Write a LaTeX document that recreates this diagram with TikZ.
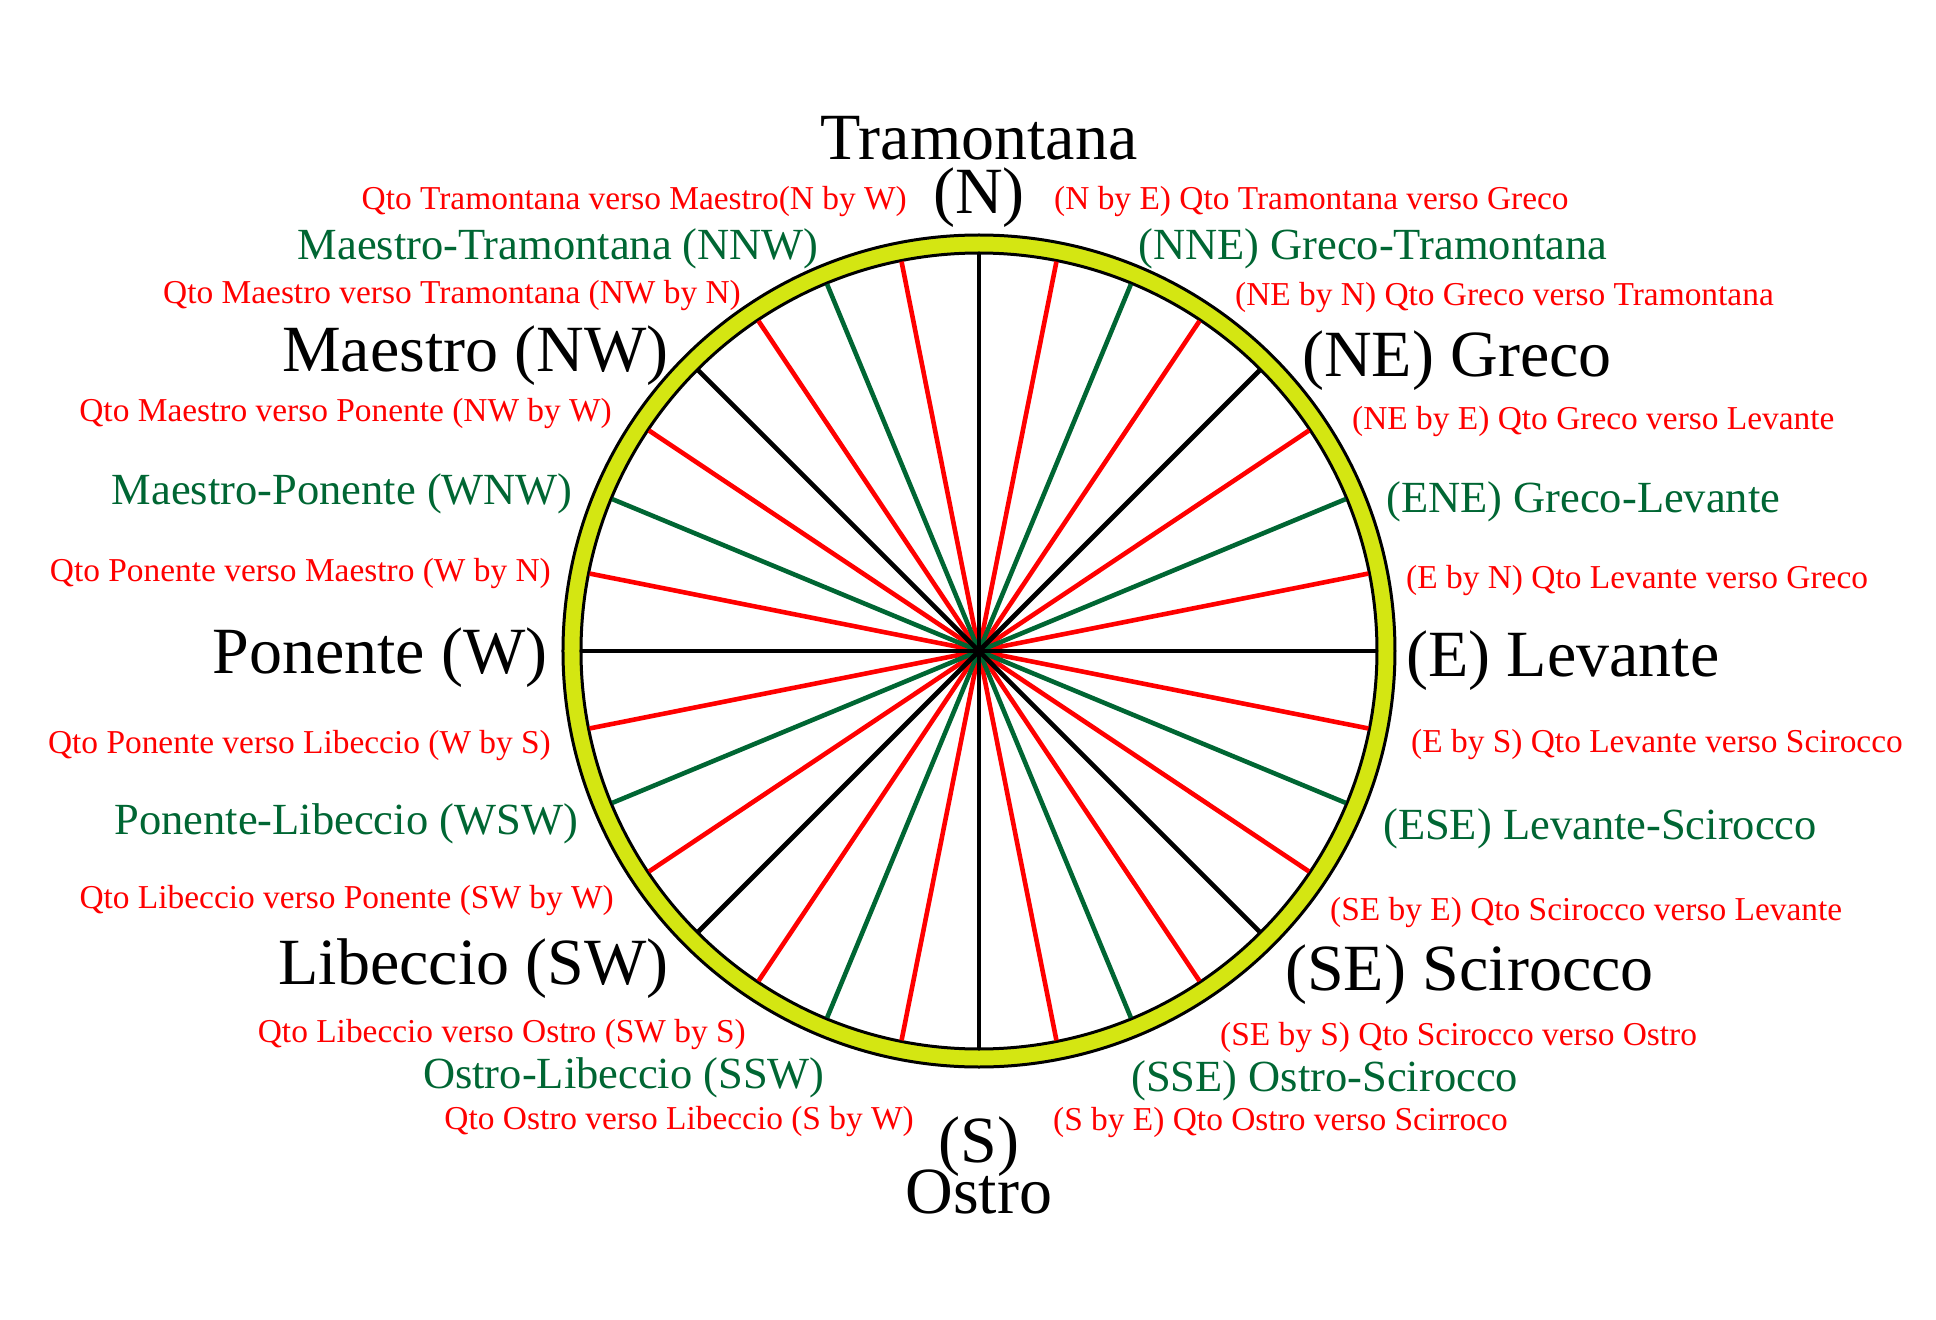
\documentclass[tikz,border=0pt]{standalone}
\usepackage{fontspec}
\setmainfont{Liberation Serif}
\usepackage{xcolor}
\usetikzlibrary{calc, positioning}

\definecolor{vongxanh}{RGB}{212,230,18}
\definecolor{xanhla}{RGB}{0,102,51}

\tikzset{
    gio chinh/.style={inner sep=0pt, font=\fontsize{66}{70}\selectfont},
    gio nua/.style={inner sep=0pt, text=xanhla, font=\fontsize{44.5}{48}\selectfont},
    gio phu/.style={inner sep=0pt, text=red, font=\fontsize{33.4}{36}\selectfont},
}

\begin{document}
\begin{tikzpicture}[x=1pt, y=1pt]
    \useasboundingbox (-979,-669) rectangle (957,651);

    % Vòng tròn ngoài
    \fill[vongxanh, even odd rule] (0,0) circle (416) (0,0) circle (398);
    \draw[line width=3pt] (0,0) circle (416);
    \draw[line width=3pt] (0,0) circle (398);

    % Các tia: đỏ, xanh, đen
    \foreach \g in {11.25, 33.75, ..., 348.75}
        \draw[red, line width=4.6pt] (0,0) -- (\g:397);
    \foreach \g in {22.5, 67.5, ..., 337.5}
        \draw[xanhla, line width=4.6pt] (0,0) -- (\g:397);
    \foreach \g in {0, 45, ..., 315}
        \draw[line width=4.6pt] (0,0) -- (\g:397);

    % Bắc - Nam
    \node[gio chinh] (tram) at (0,513) {Tramontana};
    \node[gio chinh] (n) at (0,453) {(N)};
    \node[gio chinh] (s) at (0,-496) {(S)};
    \node[gio chinh] (ostro) at (0,-541) {Ostro};

    % Bên trái
    \node[gio phu, anchor=east] (nbw) at (-72,449) {Qto Tramontana verso Maestro(N by W)};
    \node[gio nua, anchor=east] (nnw) at (-160,402) {Maestro-Tramontana (NNW)};
    \node[gio phu, anchor=east] (nwbn) at (-238,355) {Qto Maestro verso Tramontana (NW by N)};
    \node[gio chinh, anchor=east] (nw) at (-310,295) {Maestro (NW)};
    \node[gio phu, anchor=east] (nwbw) at (-367,237) {Qto Maestro verso Ponente (NW by W)};
    \node[gio nua, anchor=east] (wnw) at (-406,157) {Maestro-Ponente (WNW)};
    \node[gio phu, anchor=east] (wbn) at (-428,77) {Qto Ponente verso Maestro (W by N)};
    \node[gio chinh, anchor=east] (w) at (-431,-7) {Ponente (W)};
    \node[gio phu, anchor=east] (wbs) at (-428,-95) {Qto Ponente verso Libeccio (W by S)};
    \node[gio nua, anchor=east] (wsw) at (-401,-173) {Ponente-Libeccio (WSW)};
    \node[gio phu, anchor=east] (swbw) at (-365,-250) {Qto Libeccio verso Ponente (SW by W)};
    \node[gio chinh, anchor=east] (sw) at (-310,-318) {Libeccio (SW)};
    \node[gio phu, anchor=east] (swbs) at (-233,-384) {Qto Libeccio verso Ostro (SW by S)};
    \node[gio nua, anchor=east] (ssw) at (-154,-427) {Ostro-Libeccio (SSW)};
    \node[gio phu, anchor=east] (sbw) at (-65,-471) {Qto Ostro verso Libeccio (S by W)};

    % Bên phải
    \node[gio phu, anchor=west] (nbe) at (75,449) {(N by E) Qto Tramontana verso Greco};
    \node[gio nua, anchor=west] (nne) at (159,402) {(NNE) Greco-Tramontana};
    \node[gio phu, anchor=west] (nebn) at (256,353) {(NE by N) Qto Greco verso Tramontana};
    \node[gio chinh, anchor=west] (ne) at (323,290) {(NE) Greco};
    \node[gio phu, anchor=west] (nebe) at (373,229) {(NE by E) Qto Greco verso Levante};
    \node[gio nua, anchor=west] (ene) at (407,149) {(ENE) Greco-Levante};
    \node[gio phu, anchor=west] (ebn) at (427,70) {(E by N) Qto Levante verso Greco};
    \node[gio chinh, anchor=west] (e) at (427,-10) {(E) Levante};
    \node[gio phu, anchor=west] (ebs) at (432,-94) {(E by S) Qto Levante verso Scirocco};
    \node[gio nua, anchor=west] (ese) at (404,-178) {(ESE) Levante-Scirocco};
    \node[gio phu, anchor=west] (sebe) at (351,-262) {(SE by E) Qto Scirocco verso Levante};
    \node[gio chinh, anchor=west] (se) at (306,-324) {(SE) Scirocco};
    \node[gio phu, anchor=west] (sebs) at (241,-387) {(SE by S) Qto Scirocco verso Ostro};
    \node[gio nua, anchor=west] (sse) at (152,-430) {(SSE) Ostro-Scirocco};
    \node[gio phu, anchor=west] (sbe) at (74,-472) {(S by E) Qto Ostro verso Scirroco};
\end{tikzpicture}
\end{document}
